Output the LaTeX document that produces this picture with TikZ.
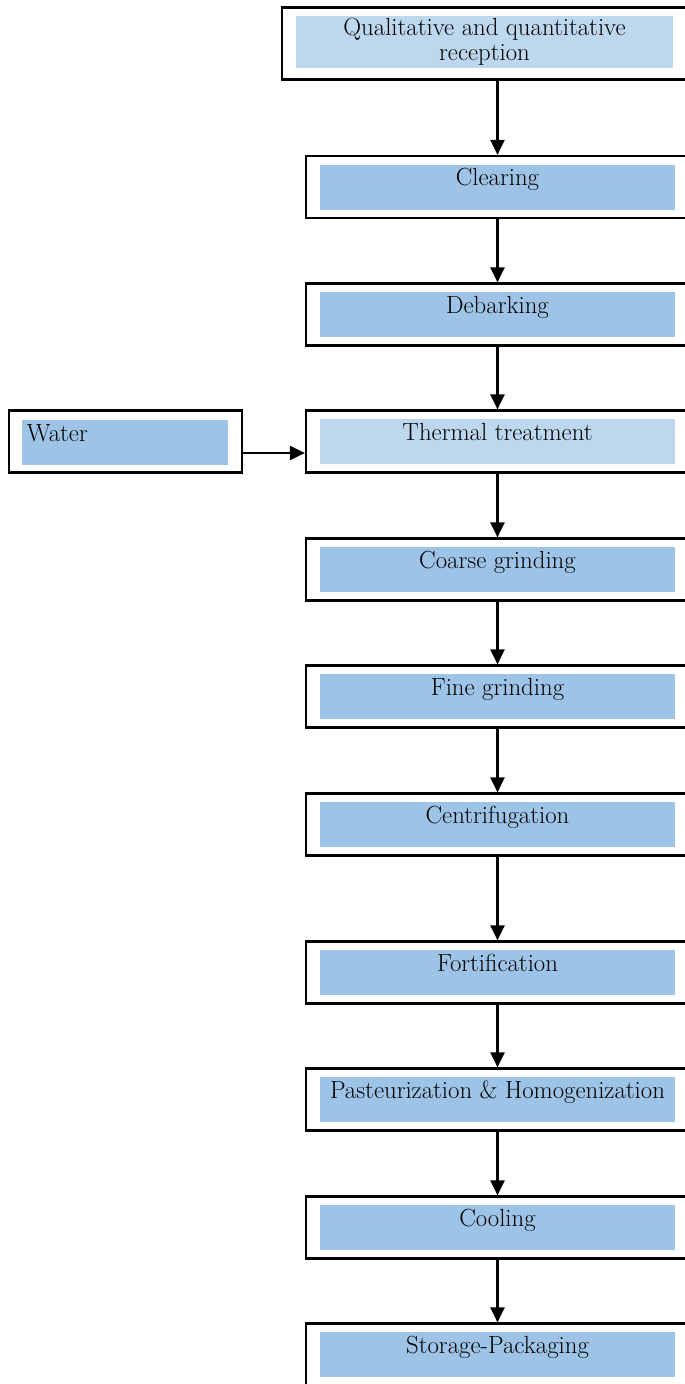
\documentclass[tikz,border=0pt]{standalone}
\usepackage{tikz}
\usetikzlibrary{arrows.meta,positioning}
\definecolor{boxblue}{HTML}{9DC3E6}
\definecolor{paleblue}{HTML}{BDD7EE}

\begin{document}
\begin{tikzpicture}[x=1pt,y=-1pt,
  outerbox/.style={draw,line width=2.2pt,minimum width=383pt,minimum height=62pt,inner sep=0pt},
  innerbox/.style={fill=boxblue,minimum width=355pt,minimum height=45pt,inner ysep=0pt,
    text height=21pt,text depth=24pt,font=\fontsize{24.8}{25}\selectfont},
  flowarrow/.style={line width=2.2pt,-{Triangle[length=15pt,width=14pt]}}]
  \useasboundingbox (0,0) rectangle (685,1384);
  \clip (0,0) rectangle (685,1384);

  % reception box (wider, text on two lines)
  \node[outerbox,minimum width=431pt,minimum height=72pt] (recep) at (497.5,43.5) {};
  \node[fill=paleblue,minimum width=377pt,minimum height=52pt,inner ysep=0pt,align=center,
    font=\fontsize{24.8}{25}\selectfont] (recep-in) at (484.5,42) {Qualitative and quantitative\\reception};

  % process steps
  \node[outerbox] (clear) at (497.5,187) {};
  \node[innerbox] (clear-in) at (clear.center) {Clearing};
  \node[outerbox] (debark) at (497.5,314.5) {};
  \node[innerbox] (debark-in) at (debark.center) {Debarking};
  \node[outerbox] (thermal) at (497.5,441.5) {};
  \node[innerbox,fill=paleblue] (thermal-in) at (thermal.center) {Thermal treatment};
  \node[outerbox] (coarse) at (497.5,569.5) {};
  \node[innerbox] (coarse-in) at (coarse.center) {Coarse grinding};
  \node[outerbox] (fine) at (497.5,696.5) {};
  \node[innerbox] (fine-in) at (fine.center) {Fine grinding};
  \node[outerbox] (centri) at (497.5,824.5) {};
  \node[innerbox] (centri-in) at (centri.center) {Centrifugation};
  \node[outerbox] (fortif) at (497.5,972.5) {};
  \node[innerbox] (fortif-in) at (fortif.center) {Fortification};
  \node[outerbox] (pasteur) at (497.5,1099.5) {};
  \node[innerbox] (pasteur-in) at (pasteur.center) {Pasteurization \& Homogenization};
  \node[outerbox] (cool) at (497.5,1227.5) {};
  \node[innerbox] (cool-in) at (cool.center) {Cooling};
  \node[outerbox] (store) at (497.5,1354.5) {};
  \node[innerbox] (store-in) at (store.center) {Storage-Packaging};

  % water input
  \node[outerbox,minimum width=233pt] (water) at (125.5,441.5) {};
  \node[innerbox,minimum width=206pt,inner xsep=5pt,text width=196pt,align=left]
    (water-in) at (125,442.5) {Water};

  % arrows
  \draw[flowarrow] (clear.north |- recep.south) -- (clear.north);
  \draw[flowarrow] (clear) -- (debark);
  \draw[flowarrow] (debark) -- (thermal);
  \draw[flowarrow] (thermal) -- (coarse);
  \draw[flowarrow] (coarse) -- (fine);
  \draw[flowarrow] (fine) -- (centri);
  \draw[flowarrow] (centri) -- (fortif);
  \draw[flowarrow] (fortif) -- (pasteur);
  \draw[flowarrow] (pasteur) -- (cool);
  \draw[flowarrow] (cool) -- (store);
  \draw[flowarrow] ([yshift=-11.5pt]water.east) -- ([yshift=-11.5pt]thermal.west);
\end{tikzpicture}
\end{document}
